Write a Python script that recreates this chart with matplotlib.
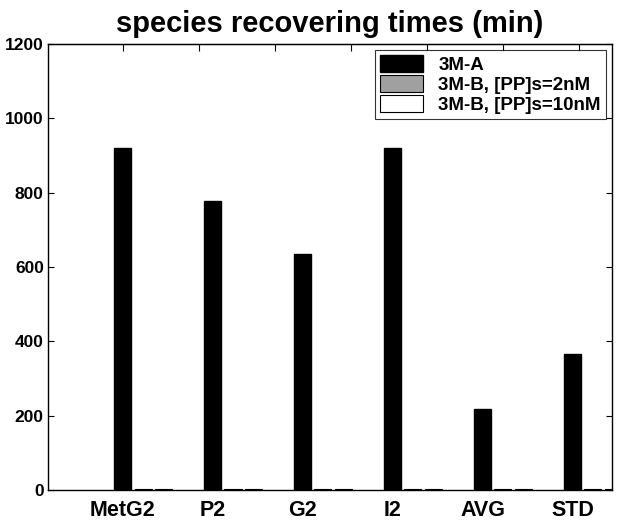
import numpy as np
import matplotlib.pyplot as plt

plt.rcParams['font.family'] = ['Liberation Sans', 'DejaVu Sans']
plt.rcParams['font.weight'] = 'bold'

categories = ["MetG2", "P2", "G2", "I2", "AVG", "STD"]
series_names = ["3M-A", "3M-B, [PP]s=2nM", "3M-B, [PP]s=10nM"]
vals_3ma = [920, 778, 635, 920, 218, 366]
vals_3mb_2 = [4, 4, 4, 4, 4, 4]
vals_3mb_10 = [3, 3, 3, 3, 3, 3]

fig = plt.figure(figsize=(6.17, 5.28), dpi=100)
ax = fig.add_axes([48/617, 1 - 490/528, 564/617, 446/528])

x = np.arange(1, len(categories) + 1)
w = 0.19
ax.bar(x, vals_3ma, w, color="black", edgecolor="black", label=series_names[0])
ax.bar(x + 0.225, vals_3mb_2, w, color="#a0a0a0", edgecolor="black", lw=0.8, label=series_names[1])
ax.bar(x + 0.455, vals_3mb_10, w, color="white", edgecolor="black", lw=0.8, label=series_names[2])

ax.set_xlim(0.167, 6.44)
ax.set_ylim(0, 1200)
ax.set_yticks(range(0, 1201, 200))
ax.set_xticks(x)
ax.set_xticklabels(categories, fontsize=15.5)
ax.tick_params(axis="y", labelsize=12.5, direction="in", right=True, length=4, pad=3)
ax.tick_params(axis="x", direction="in", length=0, pad=7)

top = ax.secondary_xaxis("top")
top.set_xticks([1 + k * 0.845 for k in range(7)])
top.set_xticklabels([])
top.tick_params(direction="in", length=5)

for s in ax.spines.values():
    s.set_linewidth(1.0)

ax.set_title("species recovering times (min)", fontsize=21, fontweight="bold", pad=9)

leg = ax.legend(loc="upper right", fontsize=13.5, frameon=True, fancybox=False,
                edgecolor="black", handlelength=2.3, handleheight=1.0,
                borderaxespad=0.3, labelspacing=0.05, borderpad=0.3,
                handletextpad=0.8)
leg.get_frame().set_linewidth(0.8)

fig.savefig("out.png", dpi=100)
